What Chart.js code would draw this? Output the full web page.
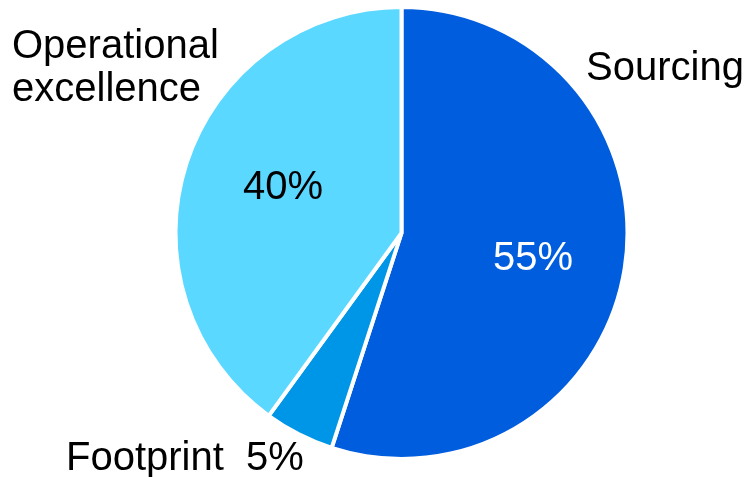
<!DOCTYPE html>
<html>
<head>
<meta charset="utf-8">
<script src="https://cdn.jsdelivr.net/npm/chart.js@4"></script>
<style>
  html, body { margin: 0; padding: 0; background: #fff; }
  #wrap { width: 747px; height: 477px; position: relative; }
</style>
</head>
<body>
<div id="wrap"><canvas id="pie"></canvas></div>
<script>
// chart data
const categories = ["Sourcing", "Footprint", "Operational excellence"];
const shares = [55, 5, 40];
const colors = ["#005DDE", "#0096E8", "#5AD8FF"];

// where each text goes (category name and percentage)
const labelSpots = [
  { name: ["Sourcing"], nx: 586, ny: 80, px: 533, py: 270, pctColor: "#fff" },
  { name: ["Footprint"], nx: 66, ny: 470, px: 275, py: 470, pctColor: "#000" },
  { name: ["Operational", "excellence"], nx: 12, ny: 58, px: 283, py: 199, pctColor: "#000" }
];

const textPlugin = {
  id: "pieText",
  afterDatasetsDraw(chart) {
    const ctx = chart.ctx;
    ctx.save();
    ctx.font = "40px 'Liberation Sans', Arial, sans-serif";
    ctx.textBaseline = "alphabetic";
    chart.data.datasets[0].data.forEach((v, i) => {
      const s = labelSpots[i];
      ctx.fillStyle = "#000";
      ctx.textAlign = "left";
      s.name.forEach((line, k) => ctx.fillText(line, s.nx, s.ny + k * 43));
      ctx.fillStyle = s.pctColor;
      ctx.textAlign = "center";
      ctx.fillText(v + "%", s.px, s.py);
    });
    ctx.restore();
  }
};

new Chart(document.getElementById("pie"), {
  type: "pie",
  data: {
    labels: categories,
    datasets: [{
      data: shares,
      backgroundColor: colors,
      borderColor: "#fff",
      borderWidth: 4
    }]
  },
  options: {
    responsive: true,
    maintainAspectRatio: false,
    animation: false,
    radius: 226,
    layout: { padding: { left: 56, right: 0, top: 0, bottom: 11 } },
    plugins: {
      legend: { display: false },
      tooltip: { enabled: false }
    }
  },
  plugins: [textPlugin]
});
</script>
</body>
</html>
